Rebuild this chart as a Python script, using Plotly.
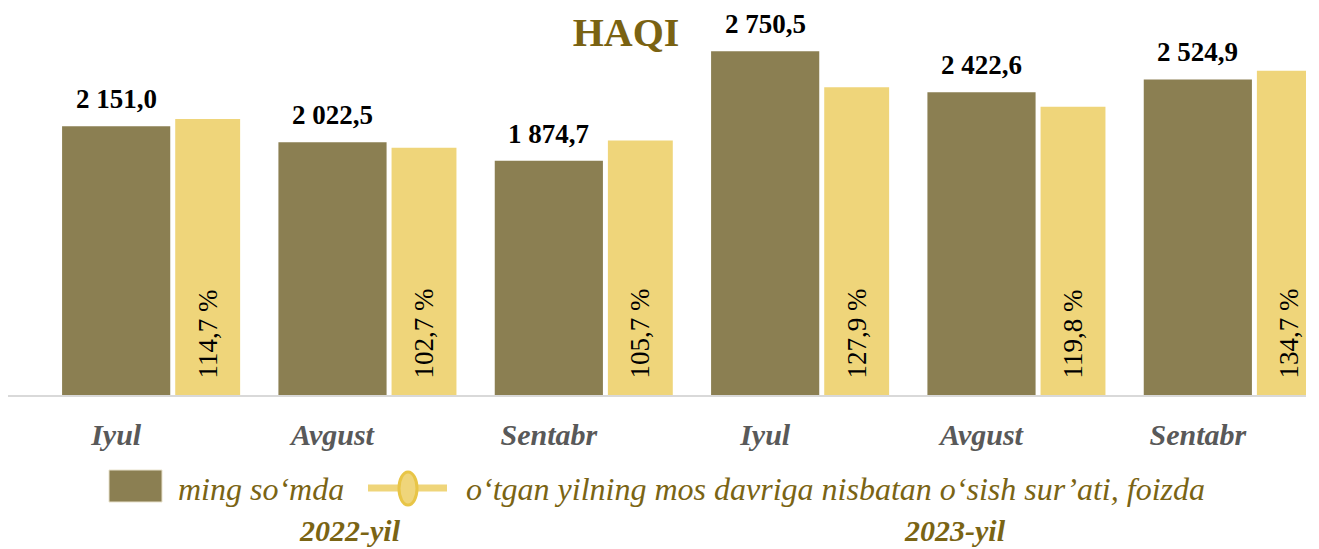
import plotly.graph_objects as go

# ---- data ----
months = ["Iyul", "Avgust", "Sentabr", "Iyul", "Avgust", "Sentabr"]
years = ["2022-yil", "2023-yil"]
wage_thousand = [2151.0, 2022.5, 1874.7, 2750.5, 2422.6, 2524.9]
growth_pct = [114.7, 102.7, 105.7, 127.9, 119.8, 134.7]
legend_names = ["ming so\u2018mda", "o\u2018tgan yilning mos davriga nisbatan o\u2018sish sur\u2019ati, foizda"]
title_text = "HAQI"

def fmt_num(v):
    s = f"{v:,.1f}"
    return s.replace(",", " ").replace(".", ",")

def fmt_pct(v):
    return f"{v:.1f}".replace(".", ",") + " %"

OLIVE = "#8B7F52"
YELLOW = "#EFD57A"
GOLD_TXT = "#7A6414"
SERIF = "Liberation Serif"

x = list(range(len(months)))

# page body has an 8px margin; compensate so the figure lands like the reference
OFF = 8
W, H = 1319 - OFF, 549 - OFF
ml, mr, mt, mb = 0, 13, 2, 154
pw, ph = W - ml - mr, H - mt - mb

def px(xp):
    return (xp - OFF - ml) / pw

def py(yp):
    return (H - mb - (yp - OFF)) / ph

fig = go.Figure()
fig.add_trace(go.Bar(
    x=x, y=wage_thousand, name=legend_names[0],
    marker=dict(color=OLIVE, line=dict(width=0)),
    width=0.5, offset=-0.25,
    showlegend=False, yaxis="y",
))
fig.add_trace(go.Bar(
    x=x, y=growth_pct, name=legend_names[1],
    marker=dict(color=YELLOW, line=dict(width=0)),
    width=0.30, offset=0.273,
    text=[fmt_pct(v) for v in growth_pct], textposition="inside",
    texttemplate="\u00a0\u00a0%{text}",
    insidetextanchor="start", textangle=-90,
    insidetextfont=dict(family=SERIF, size=27, color="black"),
    cliponaxis=False, showlegend=False, yaxis="y2",
))

# value labels above olive bars, positioned through the data axes
for xi, v in zip(x, wage_thousand):
    fig.add_annotation(x=xi, y=v, xref="x", yref="y", yanchor="bottom", xanchor="center",
                       yshift=10, showarrow=False, text=fmt_num(v),
                       font=dict(family=SERIF, size=27, color="black", weight="bold"))

fig.update_layout(
    width=W, height=H,
    margin=dict(l=ml, r=mr, t=mt, b=mb),
    paper_bgcolor="white", plot_bgcolor="white",
    barmode="overlay",
    showlegend=False,
    xaxis=dict(
        range=[-0.5, 5.5], tickvals=x, ticktext=months,
        tickfont=dict(family=SERIF, size=30, color="#595959", weight="bold", style="italic"),
        showgrid=False, zeroline=False, showline=True, linecolor="#D9D9D9", linewidth=1.5,
        ticks="", ticklabelstandoff=12, automargin=False,
    ),
    yaxis=dict(range=[0, ph * 8.0], visible=False, showgrid=False, zeroline=False),
    yaxis2=dict(range=[0, ph / 2.4066], overlaying="y", visible=False, showgrid=False, zeroline=False),
    title=dict(
        text=title_text, xref="paper", yref="container",
        x=px(626), y=1 - (32 - OFF) / H, xanchor="center", yanchor="middle",
        font=dict(family=SERIF, size=40, color="#7A6212", weight="bold"),
    ),
)

# legend drawn manually
fig.add_shape(type="rect", xref="paper", yref="paper",
              x0=px(109), x1=px(162), y0=py(502), y1=py(470),
              fillcolor=OLIVE, line=dict(color="#E8E2CC", width=1), layer="above")
fig.add_annotation(xref="paper", yref="paper", x=px(176), y=py(489),
                   xanchor="left", yanchor="middle", showarrow=False,
                   text=legend_names[0],
                   font=dict(family=SERIF, size=32, color=GOLD_TXT, style="italic"))
fig.add_shape(type="line", xref="paper", yref="paper",
              x0=px(368), x1=px(447), y0=py(488), y1=py(488),
              line=dict(color=YELLOW, width=7), layer="above")
fig.add_shape(type="circle", xref="paper", yref="paper",
              x0=px(399), x1=px(417), y0=py(505), y1=py(472),
              fillcolor=YELLOW, line=dict(color="#E8C547", width=3), layer="above")
fig.add_annotation(xref="paper", yref="paper", x=px(464), y=py(489),
                   xanchor="left", yanchor="middle", showarrow=False,
                   text=legend_names[1],
                   font=dict(family=SERIF, size=32, color=GOLD_TXT, style="italic"))
for yr, cx in zip(years, [350, 955]):
    fig.add_annotation(xref="paper", yref="paper", x=px(cx), y=py(530),
                       xanchor="center", yanchor="middle", showarrow=False,
                       text=yr,
                       font=dict(family=SERIF, size=30, color=GOLD_TXT, weight="bold", style="italic"))

fig.write_html("out.html")
